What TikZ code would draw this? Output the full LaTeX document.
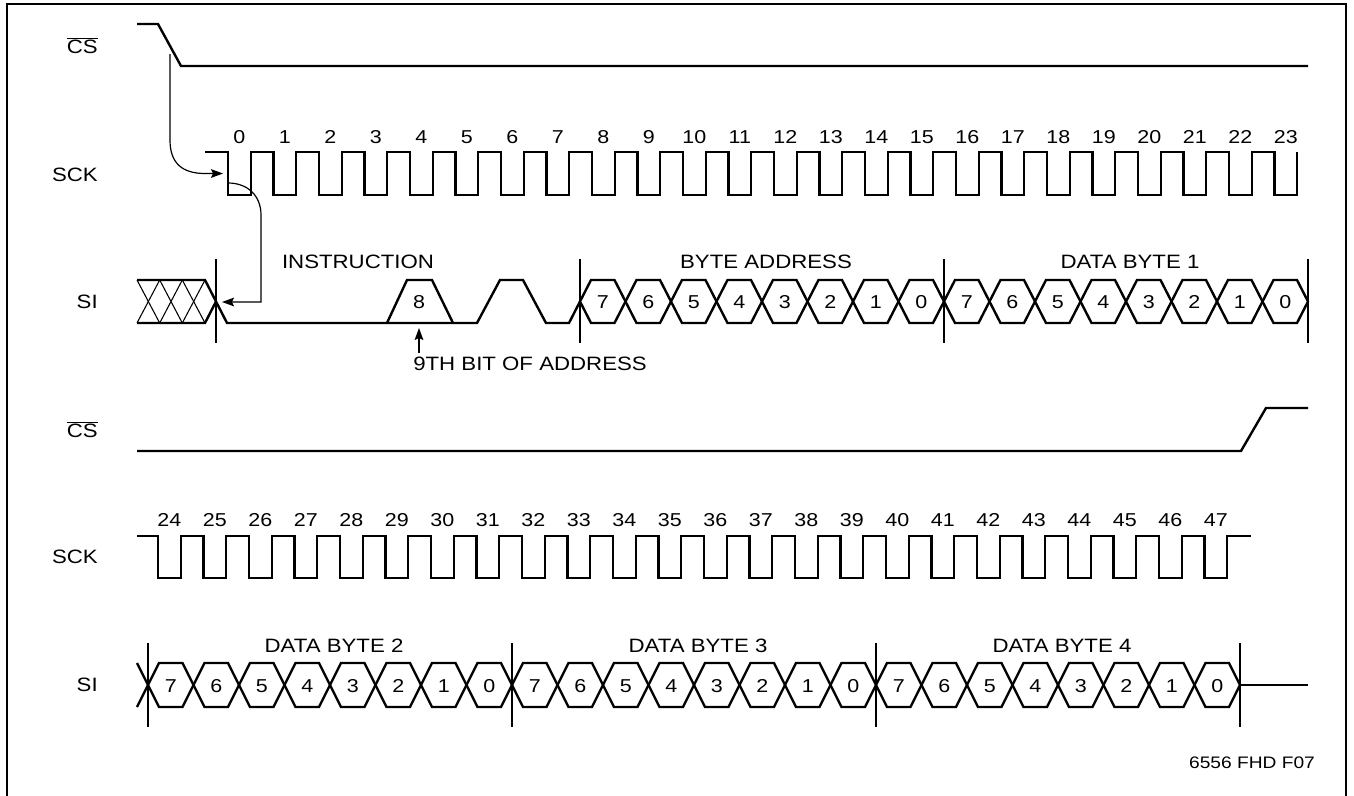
\documentclass[tikz,border=0pt]{standalone}
\usepackage{fontspec}
\setmainfont{Liberation Sans}[FakeStretch=1.15]
\usetikzlibrary{arrows.meta}

\begin{document}
\begin{tikzpicture}[x=0.75pt,y=0.75pt,yscale=-1,xscale=1,
  wave/.style={line width=1.8pt, line join=miter},
  marker/.style={line width=0.8pt},
  lbl/.style={font=\fontsize{14.5}{17}\selectfont, inner sep=0.75pt},
  num/.style={font=\fontsize{14}{16}\selectfont, inner sep=0.75pt, anchor=base},
  pointer/.style={line width=0.9pt, -{Stealth[length=9pt,width=6.5pt,inset=1.5pt]}}]
\useasboundingbox (0,0) rectangle (1354,796);

%Shape: Frame (open at the bottom)
\draw [line width=1pt] (7,796) -- (7,4) -- (1346,4) -- (1346,796);

% ---------- first half ----------
%Straight Lines: CS falls
\draw [wave] (137,24) -- (158,24) -- (181,66) -- (1308,66);

%Straight Lines: SCK 0..23
\draw [wave] (205,152) foreach \k in {0,...,23} {
  -- ({228+45.5*\k},152) -- ({228+45.5*\k},195) -- ({250.7+45.5*\k},195) -- ({250.7+45.5*\k},152) };
\foreach \k in {0,...,23}
  \node [num] (clkA\k) at ({239.3+45.5*\k},143) {\k};

%Shape: SI don't care
\foreach \a/\b in {137/159.7,159.7/182.3,182.3/205} {
  \draw [marker] (\a,280) -- (\b,323);
  \draw [marker] (\a,323) -- (\b,280);
}
\draw [wave] (137,323) -- (205,323) -- (216,301.5);
\draw [wave] (137,280) -- (205,280) -- (227,323) -- (477,323) -- (500,280) -- (523,280) -- (546,323) -- (569,323) -- (580,301.5);
%Shape: 9th address bit
\draw [wave] (387,323) -- (407,280) -- (432,280) -- (453,323);
\node [num] (bitA8) at (419,308.5) {8};

%Shape: byte address and data byte 1
\foreach \j in {0,...,15} {
  \pgfmathsetmacro{\c}{580+45.5*\j}
  \pgfmathtruncatemacro{\b}{7-mod(\j,8)}
  \draw [wave] (\c,301.5) -- (\c+11,280) -- (\c+34.5,280) -- (\c+45.5,301.5) -- (\c+34.5,323) -- (\c+11,323) -- cycle;
  \node [num] (bitB\j) at (\c+22.75,308.5) {\b};
}
%Straight Lines: boundaries
\foreach \x in {216,580,944,1308}
  \draw [marker] (\x,259) -- (\x,343);

% Text Node
\node [lbl, anchor=east] (csA) at (99,46) {$\overline{\mbox{CS}}$};
\node [lbl, anchor=east] (sckA) at (99,175) {SCK};
\node [lbl, anchor=east] (siA) at (99,301.5) {SI};
\node [lbl] (instr) at (358,262) {INSTRUCTION};
\node [lbl] (addr) at (766,262) {BYTE ADDRESS};
\node [lbl] (byte1) at (1130,262) {DATA BYTE 1};
\node [lbl, anchor=west] (ninth) at (412,364) {9TH BIT OF ADDRESS};

%Curve Lines: timing pointers
\coordinate (csfall) at (170,54);
\coordinate (sckfirst) at (223,173.5);
\coordinate (sckfall) at (228,183);
\coordinate (sistart) at (222,302);
\coordinate (ninthtail) at (419,353);
\coordinate (ninthtip) at (419,328);
\draw [pointer] (csfall) -- (170,140) .. controls (170,163) and (182,173.5) .. (205,173.5) -- (sckfirst);
\draw [pointer] (sckfall) .. controls (247,183) and (261,195) .. (261,215) -- (261,302) -- (sistart);
\draw [pointer] (ninthtail) -- (ninthtip);

% ---------- second half ----------
%Straight Lines: CS rises
\draw [wave] (137,451) -- (1241,451) -- (1266,408) -- (1308,408);

%Straight Lines: SCK 24..47
\draw [wave] (137,536) foreach \k in {0,...,23} {
  -- ({158+45.5*\k},536) -- ({158+45.5*\k},578) -- ({180.7+45.5*\k},578) -- ({180.7+45.5*\k},536) } -- (1251,536);
\foreach \k in {0,...,23} {
  \pgfmathtruncatemacro{\n}{24+\k}
  \node [num] (clkB\n) at ({169.3+45.5*\k},526) {\n};
}

%Shape: data bytes 2 to 4
\draw [wave] (137,663) -- (148,685) -- (137,707);
\foreach \j in {0,...,23} {
  \pgfmathsetmacro{\c}{148+45.5*\j}
  \pgfmathtruncatemacro{\b}{7-mod(\j,8)}
  \draw [wave] (\c,685) -- (\c+11,663) -- (\c+34.5,663) -- (\c+45.5,685) -- (\c+34.5,707) -- (\c+11,707) -- cycle;
  \node [num] (bitC\j) at (\c+22.75,692) {\b};
}
\draw [wave] (1240,685) -- (1308,685);
\foreach \x in {148,512,876,1240}
  \draw [marker] (\x,643) -- (\x,727);

% Text Node
\node [lbl, anchor=east] (csB) at (99,430) {$\overline{\mbox{CS}}$};
\node [lbl, anchor=east] (sckB) at (99,557) {SCK};
\node [lbl, anchor=east] (siB) at (99,685) {SI};
\node [lbl] (byte2) at (334,646) {DATA BYTE 2};
\node [lbl] (byte3) at (698,646) {DATA BYTE 3};
\node [lbl] (byte4) at (1062,646) {DATA BYTE 4};
\node [font=\fontsize{12.5}{14}\selectfont, inner sep=0.75pt] (figid) at (1252,763) {6556 FHD F07};

\end{tikzpicture}
\end{document}
